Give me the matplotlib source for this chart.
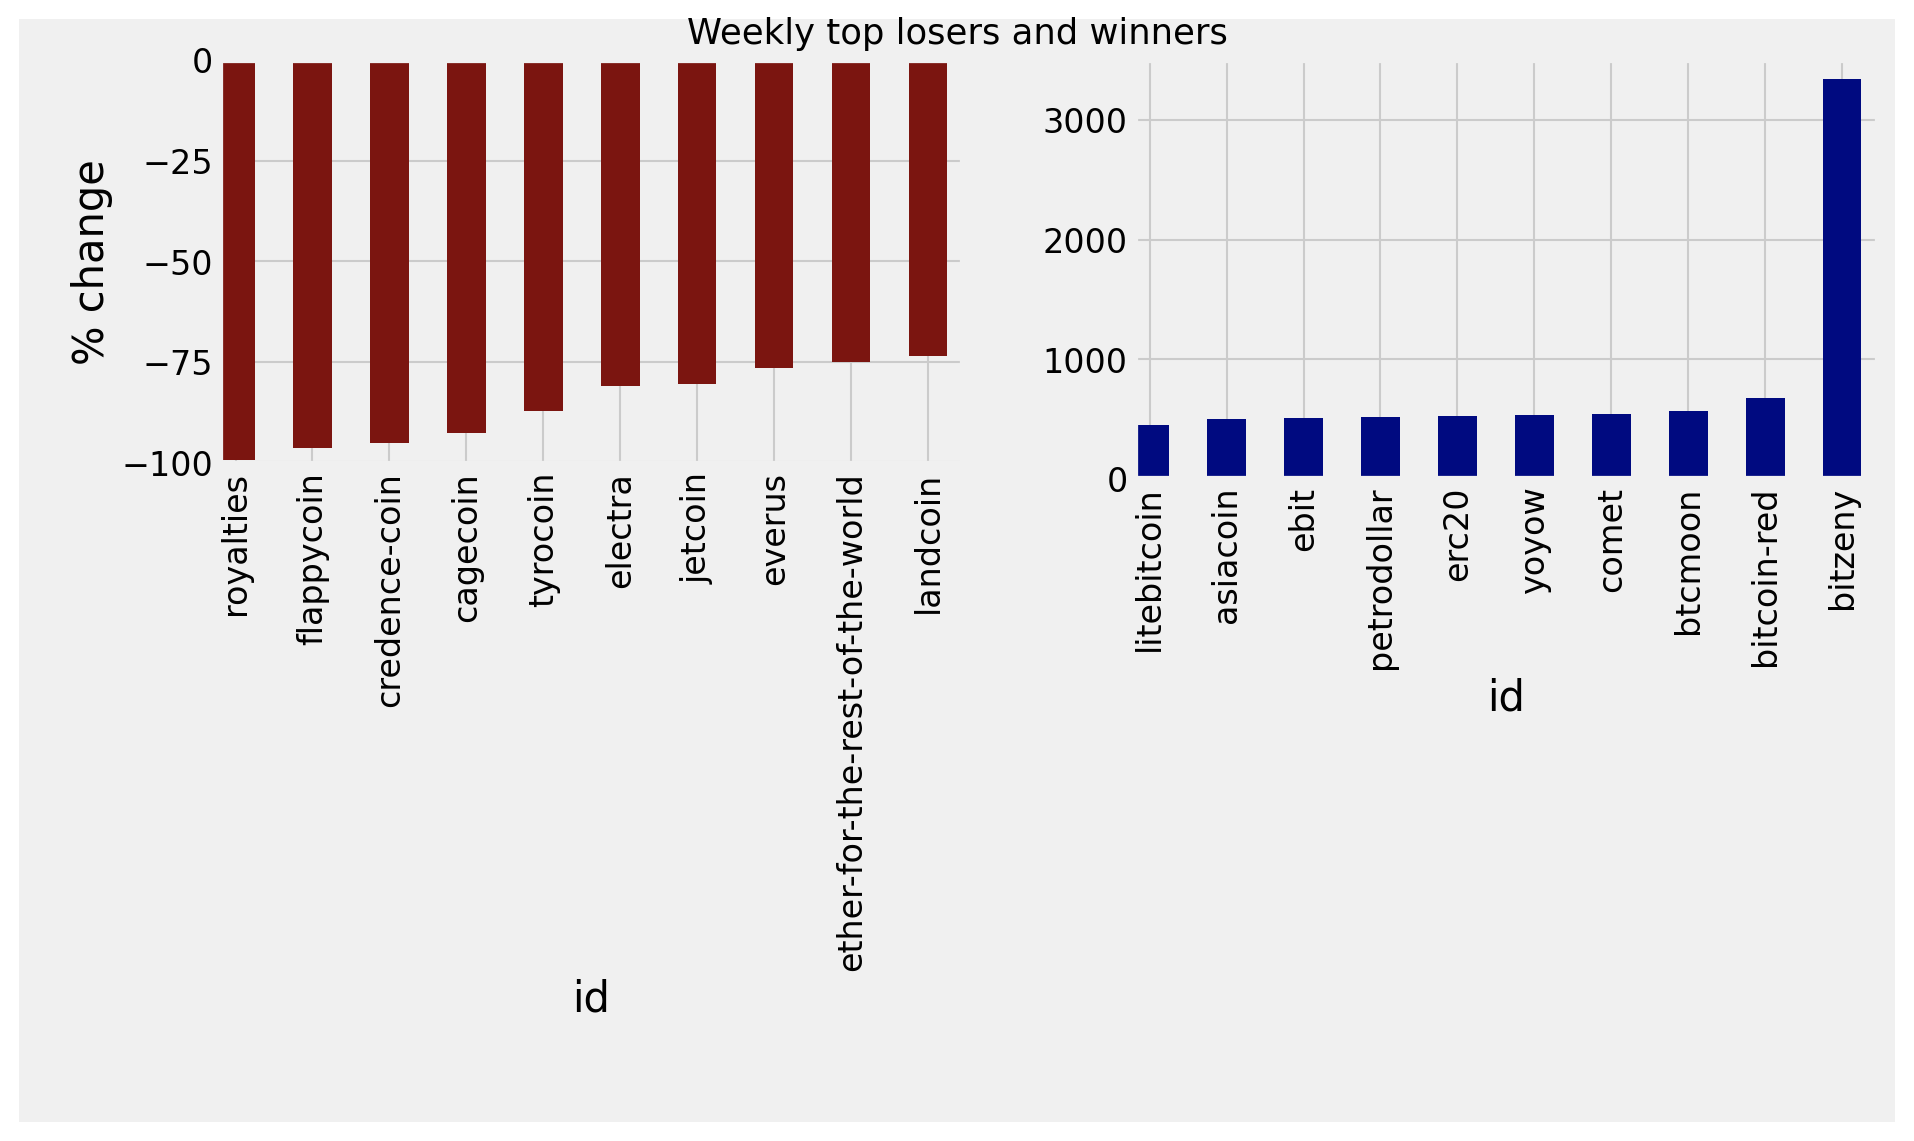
import matplotlib.pyplot as plt

plt.style.use("fivethirtyeight")

loser_ids = ["royalties", "flappycoin", "credence-coin", "cagecoin", "tyrocoin",
             "electra", "jetcoin", "everus", "ether-for-the-rest-of-the-world", "landcoin"]
loser_pct = [-99.5, -96.5, -95.2, -92.7, -87.3, -81.0, -80.5, -76.6, -75.0, -73.6]

winner_ids = ["litebitcoin", "asiacoin", "ebit", "petrodollar", "erc20",
              "yoyow", "comet", "btcmoon", "bitcoin-red", "bitzeny"]
winner_pct = [450, 500, 510, 520, 525, 530, 540, 565, 675, 3340]

fig = plt.figure(figsize=(12.76, 7.61), dpi=150)
fig.patch.set_edgecolor("white")
fig.patch.set_linewidth(18)
ax1 = fig.add_axes([0.115, 0.593, 0.388, 0.354])
ax2 = fig.add_axes([0.593, 0.580, 0.388, 0.367])

ax1.bar(range(len(loser_ids)), loser_pct, width=0.5, color="#7b1510")
ax1.set_xticks(range(len(loser_ids)))
ax1.set_xticklabels(loser_ids, rotation=90)
ax1.set_xlabel("id", fontsize=20)
ax1.set_ylabel("% change", fontsize=20)
ax1.set_xlim(-0.2, 9.45)
ax1.set_ylim(-100.5, 0)
ax1.set_yticks([-100, -75, -50, -25, 0])
ax1.tick_params(labelsize=16)

ax2.bar(range(len(winner_ids)), winner_pct, width=0.5, color="#000a80")
ax2.set_xticks(range(len(winner_ids)))
ax2.set_xticklabels(winner_ids, rotation=90)
ax2.set_xlabel("id", fontsize=20)
ax2.set_xlim(-0.19, 9.46)
ax2.set_ylim(0, 3500)
ax2.set_yticks([0, 1000, 2000, 3000])
ax2.tick_params(labelsize=16)

fig.suptitle("Weekly top losers and winners", fontsize=17, y=0.985)
fig.savefig("out.png", dpi=150)
